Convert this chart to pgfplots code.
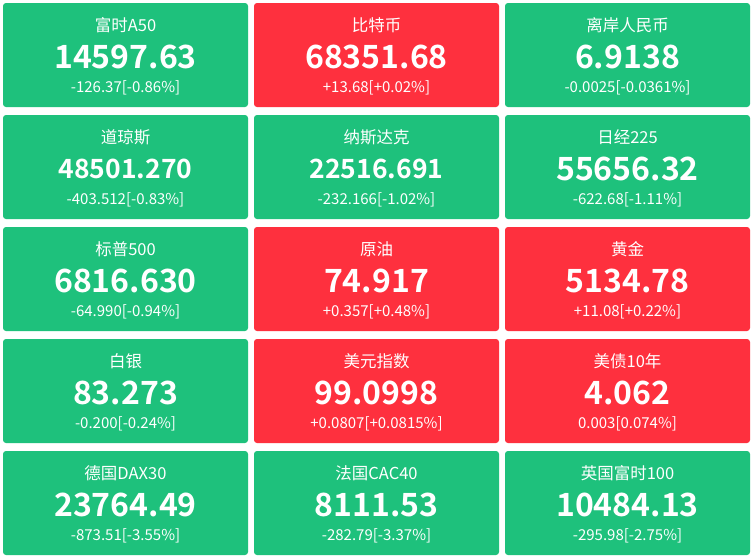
\documentclass[border=0pt]{standalone}
\usepackage{pgfplots}
\pgfplotsset{compat=1.18}
\usepackage{fontspec}
\setmainfont{Noto Sans CJK SC}[BoldFont={Noto Sans CJK SC Bold}]
\definecolor{gr}{RGB}{30,193,124}
\definecolor{rd}{RGB}{254,48,62}
\newcommand{\tile}[5]{%
  % #1 x left, #2 x right, #3 y top, #4 y bottom, #5 colour
  \addplot[fill=#5, draw=none, rounded corners=3pt] coordinates {(#1,#3) (#2,#3) (#2,#4) (#1,#4)} --cycle;
}
\newcommand{\lbl}[6]{%
  % #1 x centre, #2 y top, #3 name, #4 value, #5 change, #6 value font size
  \node[text=white, font=\fontsize{16.5}{18}\selectfont] at (axis cs:#1,#2+22) {#3};
  \node[text=white, font=\fontsize{#6}{36}\selectfont\bfseries] at (axis cs:#1,#2+54) {#4};
  \node[text=white, font=\fontsize{15}{16}\selectfont] at (axis cs:#1,#2+85) {#5};
}
\begin{document}
\begin{tikzpicture}
\begin{axis}[
  width=753pt, height=558pt, scale only axis,
  xmin=0, xmax=753, ymin=0, ymax=558, y dir=reverse,
  hide axis, clip=false,
]
\addplot[fill=white, draw=none] coordinates {(0,0) (753,0) (753,558) (0,558)} --cycle;
% row 1
\tile{3}{248}{3}{107}{gr}
\tile{254}{499}{3}{107}{rd}
\tile{505}{750}{3}{107}{gr}
% row 2
\tile{3}{248}{115}{219}{gr}
\tile{254}{499}{115}{219}{gr}
\tile{505}{750}{115}{219}{gr}
% row 3
\tile{3}{248}{227}{331}{gr}
\tile{254}{499}{227}{331}{rd}
\tile{505}{750}{227}{331}{rd}
% row 4
\tile{3}{248}{339}{443}{gr}
\tile{254}{499}{339}{443}{rd}
\tile{505}{750}{339}{443}{rd}
% row 5
\tile{3}{248}{451}{555}{gr}
\tile{254}{499}{451}{555}{gr}
\tile{505}{750}{451}{555}{gr}

\lbl{125.5}{3}{富时A50}{14597.63}{-126.37[-0.86\%]}{32}
\lbl{376.5}{3}{比特币}{68351.68}{+13.68[+0.02\%]}{32}
\lbl{627.5}{3}{离岸人民币}{6.9138}{-0.0025[-0.0361\%]}{32}
\lbl{125.5}{115}{道琼斯}{48501.270}{-403.512[-0.83\%]}{26.5}
\lbl{376.5}{115}{纳斯达克}{22516.691}{-232.166[-1.02\%]}{26.5}
\lbl{627.5}{115}{日经225}{55656.32}{-622.68[-1.11\%]}{32}
\lbl{125.5}{227}{标普500}{6816.630}{-64.990[-0.94\%]}{32}
\lbl{376.5}{227}{原油}{74.917}{+0.357[+0.48\%]}{32}
\lbl{627.5}{227}{黄金}{5134.78}{+11.08[+0.22\%]}{32}
\lbl{125.5}{339}{白银}{83.273}{-0.200[-0.24\%]}{32}
\lbl{376.5}{339}{美元指数}{99.0998}{+0.0807[+0.0815\%]}{32}
\lbl{627.5}{339}{美债10年}{4.062}{0.003[0.074\%]}{32}
\lbl{125.5}{451}{德国DAX30}{23764.49}{-873.51[-3.55\%]}{32}
\lbl{376.5}{451}{法国CAC40}{8111.53}{-282.79[-3.37\%]}{32}
\lbl{627.5}{451}{英国富时100}{10484.13}{-295.98[-2.75\%]}{32}
\end{axis}
\end{tikzpicture}
\end{document}
